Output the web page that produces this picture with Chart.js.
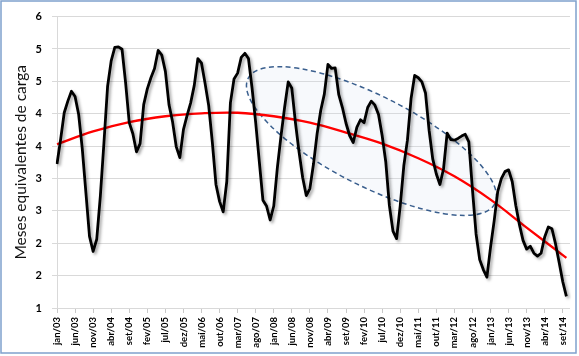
<!DOCTYPE html>
<html><head><meta charset="utf-8">
<script src="https://cdn.jsdelivr.net/npm/chart.js@4.4.0/dist/chart.umd.min.js"></script>
<style>html,body{margin:0;padding:0;background:#fff}#wrap{width:579px;height:356px;position:relative}</style>
</head><body><div id="wrap"><canvas id="c" width="579" height="356"></canvas></div>
<script>
// ---- data ----
const monthNames = ['jan','fev','mar','abr','mai','jun','jul','ago','set','out','nov','dez'];
const years = ['03','04','05','06','07','08','09','10','11','12','13','14'];
const categories = [];
years.forEach(y => monthNames.forEach(m => categories.push(m + '/' + y)));
categories.length = 143; // jan/03 .. nov/14

const tickLabels = ['jan/03','jun/03','nov/03','abr/04','set/04','fev/05','jul/05','dez/05','mai/06','out/06',
  'mar/07','ago/07','jan/08','jun/08','nov/08','abr/09','set/09','fev/10','jul/10','dez/10','mai/11','out/11',
  'mar/12','ago/12','jan/13','jun/13','nov/13','abr/14','set/14'];

const mesesCarga = [
  3.47,3.89,4.35,4.55,4.72,4.63,4.32,3.73,2.98,2.23,1.97,2.18,
  2.92,3.84,4.80,5.24,5.47,5.48,5.44,4.86,4.18,3.99,3.68,3.82,
  4.49,4.76,4.95,5.11,5.42,5.34,5.06,4.49,4.19,3.77,3.58,4.06,
  4.30,4.52,4.82,5.28,5.20,4.85,4.47,3.84,3.12,2.83,2.65,3.17,
  4.52,4.93,5.03,5.30,5.37,5.28,4.77,4.18,3.51,2.85,2.75,2.51,
  2.75,3.41,3.95,4.44,4.88,4.77,4.18,3.68,3.24,2.93,3.05,3.47,
  3.99,4.39,4.67,5.18,5.11,5.12,4.66,4.44,4.17,3.96,3.84,4.10,
  4.23,4.18,4.44,4.55,4.48,4.32,3.96,3.51,2.76,2.32,2.19,2.75,
  3.44,3.88,4.59,4.99,4.95,4.88,4.69,4.05,3.56,3.30,3.12,3.39,
  4.00,3.89,3.88,3.91,3.95,3.98,3.85,3.03,2.27,1.83,1.66,1.53,
  2.04,2.49,3.00,3.22,3.34,3.37,3.17,2.76,2.43,2.16,2.01,2.06,
  1.94,1.89,1.94,2.22,2.39,2.36,2.10,1.78,1.45,1.20
];

// trend line read at these months
const trendMonths = ['jan/03','nov/03','set/04','jul/05','mai/06','mar/07','jan/08','nov/08','set/09','jul/10','mai/11','mar/12','jan/13','nov/13','out/14'];
const trendValues = [3.81,4.03,4.19,4.29,4.34,4.35,4.29,4.18,4.01,3.82,3.57,3.26,2.86,2.38,1.86];

const yTickValues = [1,1.5556,2.1111,2.6667,3.2222,3.7778,4.3333,4.8889,5.4444,6];
const yTickLabels = ['1','2','2','3','3','4','4','5','5','6'];

// ---- plugins ----
const shadowPlugin = {
  id:'shadow',
  beforeDatasetDraw(chart, args){
    const ctx = chart.ctx; ctx.save();
    if (args.index === 0){
      ctx.shadowColor='rgba(0,0,0,0.35)'; ctx.shadowBlur=3; ctx.shadowOffsetX=2; ctx.shadowOffsetY=2;
    }
  },
  afterDatasetDraw(chart){ chart.ctx.restore(); }
};
const ellipsePlugin = {
  id:'ellipse',
  beforeDatasetsDraw(chart){
    const {ctx, scales:{x,y}} = chart;
    const x1 = x.getPixelForValue(52.9), y1 = y.getPixelForValue(4.94);
    const x2 = x.getPixelForValue(121.2), y2 = y.getPixelForValue(2.79);
    const cx=(x1+x2)/2, cy=(y1+y2)/2;
    const a = Math.hypot(x2-x1,y2-y1)/2, ang = Math.atan2(y2-y1,x2-x1);
    ctx.save();
    ctx.beginPath();
    ctx.ellipse(cx,cy,a,45,ang,0,Math.PI*2);
    ctx.fillStyle='rgba(215,227,242,0.2)';
    ctx.fill();
    ctx.setLineDash([5,3.5]);
    ctx.lineWidth=1.5;
    ctx.strokeStyle='#3a5f8e';
    ctx.stroke();
    ctx.restore();
  }
};
const borderPlugin = {
  id:'frame',
  afterDraw(chart){
    const ctx=chart.ctx; ctx.save();
    ctx.strokeStyle='#7fa1cd'; ctx.lineWidth=1.5;
    ctx.strokeRect(1,1,575,352);
    ctx.restore();
  }
};

new Chart(document.getElementById('c'), {
  type:'line',
  data:{
    labels:categories,
    datasets:[
      {data:mesesCarga, borderColor:'#000', borderWidth:2.8, pointRadius:0, tension:0, fill:false, borderJoinStyle:'round'},
      {data:trendMonths.map((m,i)=>({x:m,y:trendValues[i]})), borderColor:'#ff0000', borderWidth:2.3, pointRadius:0, tension:0.4, fill:false}
    ]
  },
  options:{
    responsive:false, animation:false, devicePixelRatio:1,
    layout:{padding:{left:0,right:9,top:12,bottom:0}},
    plugins:{legend:{display:false}, tooltip:{enabled:false}},
    scales:{
      x:{
        type:'category', offset:false,
        grid:{display:true, drawOnChartArea:false, drawTicks:true, tickLength:5, color:'#c8c8c8'},
        border:{display:false},
        ticks:{autoSkip:false, maxRotation:90, minRotation:90, padding:4, color:'#000',
          font:{family:'Lato', weight:'bold', size:9.5},
          callback:function(v,i){ const l=categories[i]; return tickLabels.includes(l) ? l : null; }},
        afterFit(s){ s.height=48; }
      },
      y:{
        min:1, max:6,
        afterBuildTicks(s){ s.ticks = yTickValues.map(v=>({value:v})); },
        grid:{color:'#d9d9d9', tickLength:5, drawTicks:true},
        border:{display:true, color:'#d9d9d9'},
        ticks:{padding:10, color:'#000', font:{family:'Lato', weight:'bold', size:11},
          callback:function(v,i){ return yTickLabels[i]; }},
        title:{display:true, text:'Meses equivalentes de carga', color:'#111',
          font:{family:'Lato', size:15.5}, padding:{top:12,bottom:0}},
        afterFit(s){ s.width=57; }
      }
    }
  },
  plugins:[shadowPlugin, ellipsePlugin, borderPlugin]
});
</script></body></html>
